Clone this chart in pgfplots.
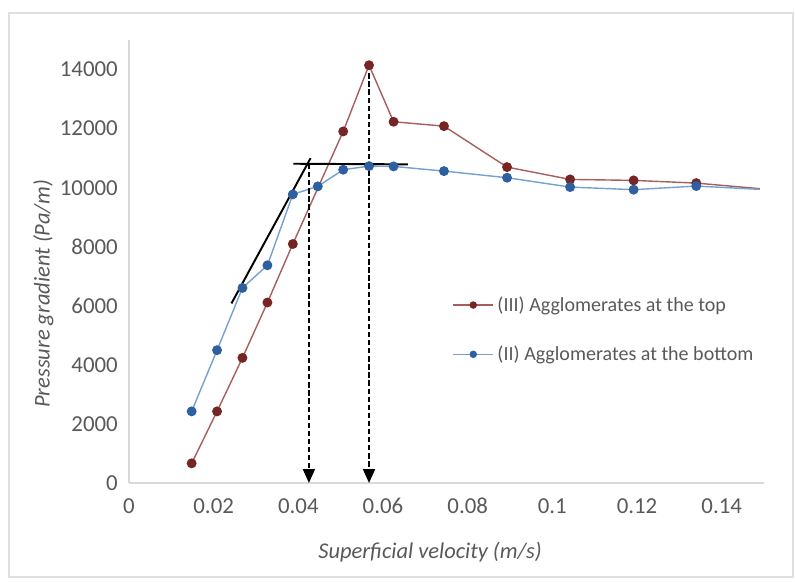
\documentclass[border=0pt]{standalone}
\usepackage{pgfplots}
\pgfplotsset{compat=1.18}
\usetikzlibrary{arrows.meta}
\usepackage{fontspec}
\setmainfont{Carlito}
\definecolor{redmk}{HTML}{762424}
\definecolor{redln}{HTML}{A65E5E}
\definecolor{blumk}{HTML}{2E60A0}
\definecolor{bluln}{HTML}{76A0D2}
\definecolor{txt}{HTML}{595959}
\definecolor{axln}{HTML}{D9D9D9}
\begin{document}
\begin{tikzpicture}
\path[use as bounding box] (0,0) rectangle (15.9,11.62);
\draw[gray!25,line width=0.8pt] (0.18,0.08) rectangle (15.86,11.36);
\begin{axis}[
  at={(2.58cm,1.96cm)}, anchor=south west,
  scale only axis, width=12.7cm, height=8.86cm,
  xmin=0, xmax=0.15, ymin=0, ymax=15000,
  axis lines=left, axis line style={axln, line width=0.8pt, -},
  major tick length=0pt, scaled ticks=false,
  xtick={0,0.02,...,0.14}, xticklabels={0,0.02,0.04,0.06,0.08,0.1,0.12,0.14},
  ytick={0,2000,...,14000},
  yticklabels={0,2000,4000,6000,8000,10000,12000,14000},
  ticklabel style={font=\fontsize{13}{15}\selectfont, text=txt},
  xticklabel shift=0.18cm, yticklabel shift=0.1cm,
  xlabel={\textit{Superficial velocity (m/s)}},
  ylabel={\textit{Pressure gradient (Pa/m)}},
  label style={font=\fontsize{12.8}{15}\selectfont, text=txt},
  xlabel style={at={(axis description cs:0.474,-0.156)}, anchor=center},
  ylabel style={at={(axis description cs:-0.135,0.427)}, anchor=center},
  legend style={draw=none, fill=none, at={(axis description cs:0.509,0.43)}, anchor=north west,
    font=\fontsize{11.4}{13}\selectfont, text=txt, row sep=0.5cm, inner sep=0pt},
  legend cell align=left,
  legend image code/.code={\draw[mark size=1.7pt,mark indices={2}] plot coordinates {(0cm,0cm)(0.4cm,0cm)(0.8cm,0cm)};},
  clip=false,
]
\addplot[redln, line width=0.8pt, mark=*, mark size=2.4pt, mark options={fill=redmk, draw=redmk}, mark indices={1,...,13}]
 coordinates {(0.0148,666)(0.0208,2425)(0.0268,4237)(0.0327,6111)(0.0387,8093)(0.0506,11904)(0.0567,14146)(0.0625,12232)(0.0744,12083)(0.0893,10697)(0.1042,10280)(0.1192,10246)(0.134,10155)(0.149,9966)};
\addlegendentry{(III) Agglomerates at the top}
\addplot[bluln, line width=0.8pt, mark=*, mark size=2.4pt, mark options={fill=blumk, draw=blumk}, mark indices={1,...,14}]
 coordinates {(0.0148,2425)(0.0208,4498)(0.0268,6605)(0.0327,7372)(0.0387,9773)(0.0446,10044)(0.0506,10608)(0.0567,10730)(0.0625,10720)(0.0744,10561)(0.0893,10337)(0.1042,10020)(0.1192,9932)(0.134,10054)(0.149,9943)};
\addlegendentry{(II) Agglomerates at the bottom}
\addplot[black, line width=1.1pt, forget plot] coordinates {(0.0242,6080)(0.0429,11000)};
\addplot[black, line width=1.1pt, forget plot] coordinates {(0.0388,10810)(0.0659,10790)};
\addplot[black, line width=1.1pt, dash pattern=on 3pt off 1.6pt, -{Triangle[length=0.28cm,width=0.24cm]}, forget plot] coordinates {(0.0425,10800)(0.0425,0)};
\addplot[black, line width=1.1pt, dash pattern=on 3pt off 1.6pt, -{Triangle[length=0.28cm,width=0.24cm]}, forget plot] coordinates {(0.0567,14146)(0.0567,0)};
\end{axis}
\end{tikzpicture}
\end{document}
